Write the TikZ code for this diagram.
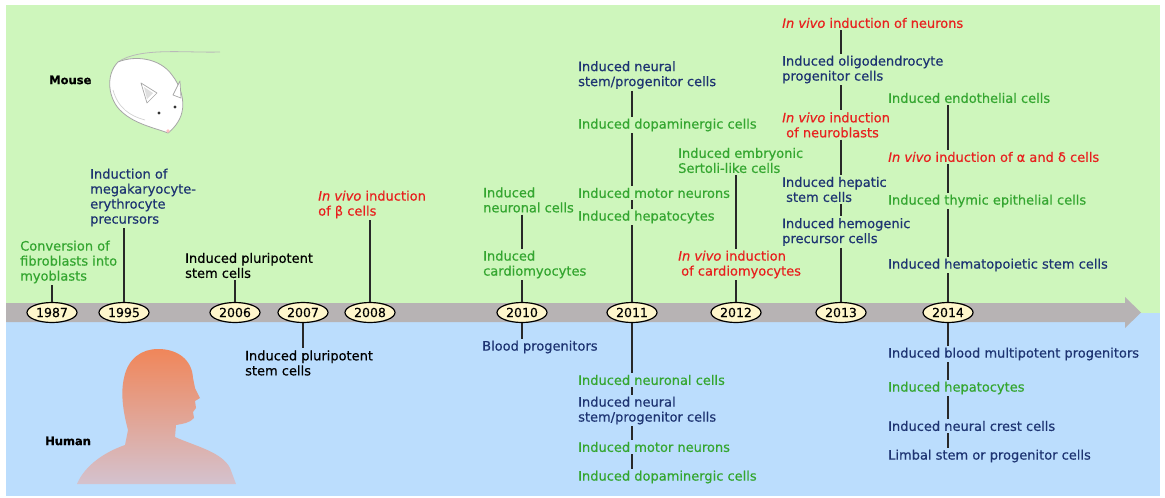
\documentclass[tikz,border=0pt]{standalone}
\usepackage{fontspec}
\setmainfont{DejaVu Sans}[FakeBold=0.5]
\usetikzlibrary{shapes.geometric}

\definecolor{bgmouse}{RGB}{206,246,188}
\definecolor{bghuman}{RGB}{187,221,253}
\definecolor{band}{RGB}{183,179,180}
\definecolor{ovalfill}{RGB}{255,247,204}
\definecolor{cgreen}{RGB}{52,166,48}
\definecolor{cnavy}{RGB}{30,52,114}
\definecolor{cred}{RGB}{232,32,30}
\definecolor{cline}{RGB}{40,40,40}
\definecolor{skin}{RGB}{240,134,90}
\definecolor{skinfade}{RGB}{212,194,206}

\begin{document}
\begin{tikzpicture}[x=1pt, y=-1pt, line join=round,
    year/.style={ellipse, draw=black, line width=1.2pt, fill=ovalfill, inner sep=0pt,
        minimum width=50pt, minimum height=20pt, font=\fontsize{12.5}{14}\selectfont},
    txt/.style={anchor=west, align=left, inner xsep=0pt, inner ysep=2pt,
        font=\fontsize{13}{15}\selectfont},
    tag/.style={anchor=west, inner sep=0pt, font=\fontsize{11.5}{13}\selectfont\bfseries},
    link/.style={draw=cline, line width=1.2pt}]

    % 画布与底色 (上: 小鼠, 下: 人)
    \useasboundingbox (0,0) rectangle (1165,498);
    \fill[white] (0,0) rectangle (1165,498);
    \fill[bgmouse] (6,5) rectangle (1160,313);
    \fill[bghuman] (6,313) rectangle (1160,496);

    % 时间轴箭头
    \fill[band] (6,303) -- (1125,303) -- (1125,297) -- (1141,312.5)
        -- (1125,328) -- (1125,322) -- (6,322) -- cycle;

    % 小鼠
    \draw[gray!55, line width=0.8pt] (118,62) .. controls (140,47) and (185,53) .. (220,52);
    \draw[gray!70, fill=white, line width=0.8pt] (118,62)
        .. controls (135,55) and (160,58) .. (172,75)
        .. controls (180,85) and (185,100) .. (182,112)
        .. controls (180,122) and (172,130) .. (168,133)
        .. controls (155,128) and (135,124) .. (122,112)
        .. controls (108,100) and (105,75) .. (118,62) -- cycle;
    \draw[gray!35, line width=0.7pt] (113,90) .. controls (118,108) and (130,116) .. (145,120);
    \draw[gray!70, fill=white, line width=0.7pt] (141,83) -- (157,93) -- (147,103) -- cycle;
    \fill[gray!25] (144,87) -- (153,93) -- (147,99) -- cycle;
    \draw[gray!70, fill=white, line width=0.7pt] (180,81) -- (181,98) -- (173,95) -- cycle;
    \fill[black!80] (159,113) circle (1.7pt);
    \fill[black!80] (175,107) circle (1.7pt);
    \fill[red!25] (168,131) circle (1.8pt);

    % 人像剪影
    \shade[top color=skin, bottom color=skinfade] (77,484)
        .. controls (85,465) and (105,452) .. (125,445)
        -- (128,430)
        .. controls (124,415) and (120,395) .. (124,378)
        .. controls (128,358) and (142,349) .. (158,349)
        .. controls (178,349) and (192,360) .. (193,378)
        -- (195,388) -- (200,398) -- (195,401) -- (196,408)
        -- (193,412) -- (194,418)
        .. controls (190,423) and (182,424) .. (176,425)
        -- (175,437)
        .. controls (195,446) and (222,452) .. (230,468)
        -- (236,484) -- cycle;

    \node[tag] (mlab) at (49,80) {Mouse};
    \node[tag] (hlab) at (45,441) {Human};

    % 年份
    \node[year] (y87) at (52,312.5) {1987};
    \node[year] (y95) at (124,312.5) {1995};
    \node[year] (y06) at (235,312.5) {2006};
    \node[year] (y07) at (303,312.5) {2007};
    \node[year] (y08) at (370,312.5) {2008};
    \node[year] (y10) at (522,312.5) {2010};
    \node[year] (y11) at (632,312.5) {2011};
    \node[year] (y12) at (736,312.5) {2012};
    \node[year] (y13) at (841,312.5) {2013};
    \node[year] (y14) at (948,312.5) {2014};

    % 小鼠一侧
    \node[txt, cgreen] (conv87) at (20,262) {Conversion of\\fibroblasts into\\myoblasts};
    \node[txt, cnavy] (ind95) at (90,197.5) {Induction of\\megakaryocyte-\\erythrocyte\\precursors};
    \node[txt] (ips06) at (185,265.5) {Induced pluripotent\\stem cells};
    \node[txt, cred] (beta08) at (318,204.5) {\emph{In vivo} induction\\of β cells};

    \node[txt, cgreen] (neu10) at (483,200) {Induced\\neuronal cells};
    \node[txt, cgreen] (cm10) at (483,264.5) {Induced\\cardiomyocytes};

    \node[txt, cnavy] (nsc11) at (578,75) {Induced neural\\stem/progenitor cells};
    \node[txt, cgreen] (dop11) at (578,125) {Induced dopaminergic cells};
    \node[txt, cgreen] (mn11) at (578,193) {Induced motor neurons};
    \node[txt, cgreen] (hep11) at (578,217) {Induced hepatocytes};

    \node[txt, cgreen] (ser12) at (678,160.5) {Induced embryonic\\Sertoli-like cells};
    \node[txt, cred] (cm12) at (678,264.5) {\emph{In vivo} induction\\\hspace*{3pt}of cardiomyocytes};

    \node[txt, cred] (neu13) at (782,23) {\emph{In vivo} induction of neurons};
    \node[txt, cnavy] (opc13) at (782,69.5) {Induced oligodendrocyte\\progenitor cells};
    \node[txt, cred] (nb13) at (782,125) {\emph{In vivo} induction\\\hspace*{4pt}of neuroblasts};
    \node[txt, cnavy] (hsc13) at (782,189.5) {Induced hepatic\\\hspace*{4pt}stem cells};
    \node[txt, cnavy] (hpc13) at (782,232) {Induced hemogenic\\precursor cells};

    \node[txt, cgreen] (endo14) at (888,98) {Induced endothelial cells};
    \node[txt, cred] (ad14) at (888,157) {\emph{In vivo} induction of α and δ cells};
    \node[txt, cgreen] (thy14) at (888,201) {Induced thymic epithelial cells};
    \node[txt, cnavy] (hsc14) at (888,265) {Induced hematopoietic stem cells};

    % 人一侧
    \node[txt] (ips07) at (245,363) {Induced pluripotent\\stem cells};
    \node[txt, cnavy] (bp10) at (482,347) {Blood progenitors};

    \node[txt, cgreen] (neu11b) at (578,380) {Induced neuronal cells};
    \node[txt, cnavy] (nsc11b) at (578,410.5) {Induced neural\\stem/progenitor cells};
    \node[txt, cgreen] (mn11b) at (578,447) {Induced motor neurons};
    \node[txt, cgreen] (dop11b) at (578,477) {Induced dopaminergic cells};

    \node[txt, cnavy] (bmp14) at (888,354) {Induced blood multipotent progenitors};
    \node[txt, cgreen] (hep14) at (888,388) {Induced hepatocytes};
    \node[txt, cnavy] (ncc14) at (888,426) {Induced neural crest cells};
    \node[txt, cnavy] (lsc14) at (888,456) {Limbal stem or progenitor cells};

    % 连线 (上方)
    \draw[link] (conv87.south -| y87) -- (y87.north);
    \draw[link] (ind95.south -| y95) -- (y95.north);
    \draw[link] (ips06.south -| y06) -- (y06.north);
    \draw[link] (beta08.south -| y08) -- (y08.north);
    \draw[link] (neu10.south -| y10) -- (cm10.north -| y10);
    \draw[link] (cm10.south -| y10) -- (y10.north);
    \draw[link] (nsc11.south -| y11) -- (dop11.north -| y11);
    \draw[link] (dop11.south -| y11) -- (mn11.north -| y11);
    \draw[link] (mn11.south -| y11) -- (hep11.north -| y11);
    \draw[link] (hep11.south -| y11) -- (y11.north);
    \draw[link] (ser12.south -| y12) -- (cm12.north -| y12);
    \draw[link] (cm12.south -| y12) -- (y12.north);
    \draw[link] (neu13.south -| y13) -- (opc13.north -| y13);
    \draw[link] (opc13.south -| y13) -- (nb13.north -| y13);
    \draw[link] (nb13.south -| y13) -- (hsc13.north -| y13);
    \draw[link] (hsc13.south -| y13) -- (hpc13.north -| y13);
    \draw[link] (hpc13.south -| y13) -- (y13.north);
    \draw[link] (endo14.south -| y14) -- (ad14.north -| y14);
    \draw[link] (ad14.south -| y14) -- (thy14.north -| y14);
    \draw[link] (thy14.south -| y14) -- (hsc14.north -| y14);
    \draw[link] (hsc14.south -| y14) -- (y14.north);

    % 连线 (下方)
    \draw[link] (y07.south) -- (ips07.north -| y07);
    \draw[link] (y10.south) -- (bp10.north -| y10);
    \draw[link] (y11.south) -- (neu11b.north -| y11);
    \draw[link] (neu11b.south -| y11) -- (nsc11b.north -| y11);
    \draw[link] (nsc11b.south -| y11) -- (mn11b.north -| y11);
    \draw[link] (mn11b.south -| y11) -- (dop11b.north -| y11);
    \draw[link] (y14.south) -- (bmp14.north -| y14);
    \draw[link] (bmp14.south -| y14) -- (hep14.north -| y14);
    \draw[link] (hep14.south -| y14) -- (ncc14.north -| y14);
    \draw[link] (ncc14.south -| y14) -- (lsc14.north -| y14);
\end{tikzpicture}
\end{document}
